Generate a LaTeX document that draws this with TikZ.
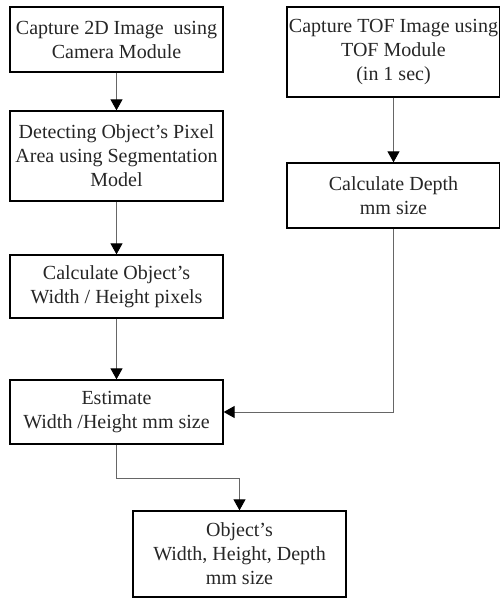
\documentclass[tikz,border=0pt]{standalone}
\usepackage{fontspec}
\setmainfont{Liberation Serif}
\usetikzlibrary{arrows.meta}

\tikzset{
  box/.style={draw=black,line width=1.3pt,minimum width=213pt,align=center,
    inner sep=0pt,font=\fontsize{20}{24}\selectfont,text=black!85},
  link/.style={draw=black!60,line width=1pt,
    -{Triangle[width=12pt,length=11pt,color=black]}}
}

\begin{document}
\begin{tikzpicture}[x=1pt,y=-1pt]
        \useasboundingbox (0,0) rectangle (500,599) ;
        % left column
        \node[box,minimum height=65pt] (cam) at (116.5,39.5)
          {Capture 2D Image\ \ using\\Camera Module} ;
        \node[box,minimum height=90pt] (seg) at (116.5,156)
          {Detecting Object's Pixel\\Area using Segmentation\\Model} ;
        \node[box,minimum height=63pt] (pix) at (116.5,286.5)
          {Calculate Object's\\Width / Height pixels} ;
        \node[box,minimum height=64pt] (est) at (116.5,412)
          {Estimate\\Width /Height mm size} ;
        % right column
        \node[box,minimum height=90pt] (tof) at (393.5,52)
          {Capture TOF Image using\\TOF Module\\(in 1 sec)} ;
        \node[box,minimum height=65pt] (depth) at (393.5,195.5)
          {Calculate Depth\\mm size} ;
        % result
        \node[box,minimum height=86pt] (obj) at (239.5,554)
          {Object's\\Width, Height, Depth\\mm size} ;
        \coordinate (bend) at (116.5,478) ;

        \draw[link] (cam) -- (seg) ;
        \draw[link] (seg) -- (pix) ;
        \draw[link] (pix) -- (est) ;
        \draw[link] (tof) -- (depth) ;
        \draw[link] (depth.south) |- (est.east) ;
        \draw[link] (est.south) -- (bend) -| (obj.north) ;
\end{tikzpicture}
\end{document}
